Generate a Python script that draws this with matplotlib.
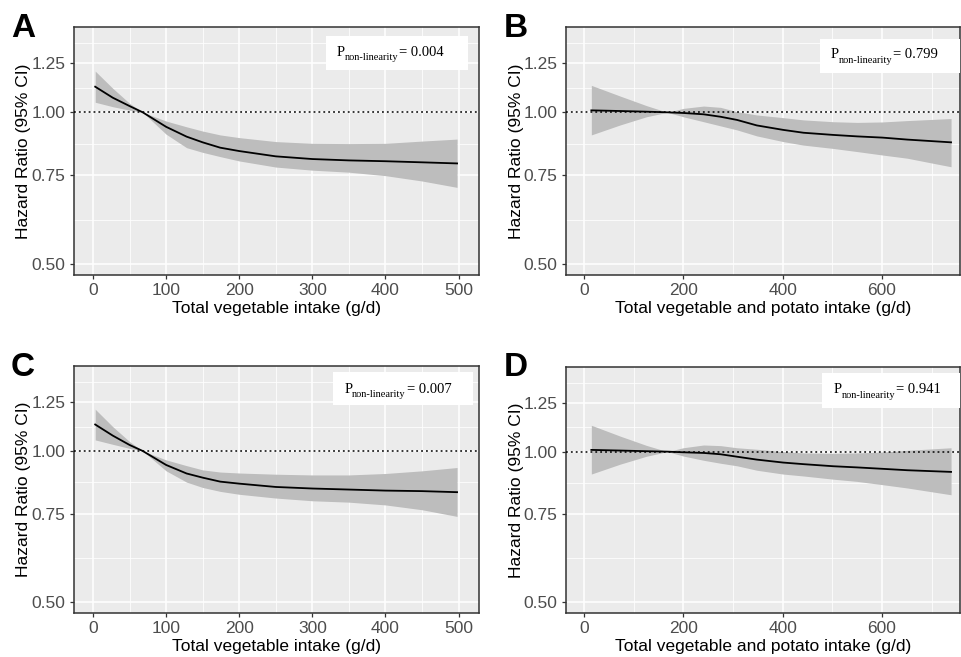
import matplotlib
matplotlib.use('Agg')
import matplotlib.pyplot as plt
from matplotlib.patches import Rectangle
from matplotlib.ticker import FixedLocator, FixedFormatter, NullFormatter

plt.rcParams['font.family'] = ['Liberation Sans', 'DejaVu Sans']

# x positions (g/d) where the curves were read
veg_x = [3, 27, 50, 68, 100, 128, 150, 174, 200, 250, 300, 350, 400, 450, 498]
potato_x = [15, 73, 126, 168, 200, 241, 275, 308, 348, 401, 442, 502, 550, 601, 651, 739]

# panel A
hr_a = [1.124, 1.069, 1.029, 1.0, 0.936, 0.895, 0.872, 0.851, 0.838, 0.818, 0.808, 0.803, 0.800, 0.796, 0.792]
hi_a = [1.207, 1.116, 1.042, 1.0, 0.961, 0.936, 0.918, 0.902, 0.891, 0.875, 0.868, 0.867, 0.868, 0.877, 0.885]
lo_a = [1.047, 1.026, 1.010, 1.0, 0.905, 0.851, 0.833, 0.817, 0.801, 0.779, 0.768, 0.761, 0.749, 0.731, 0.710]

# panel B
hr_b = [1.009, 1.006, 1.003, 1.0, 0.997, 0.991, 0.980, 0.966, 0.942, 0.923, 0.911, 0.902, 0.896, 0.891, 0.883, 0.872]
hi_b = [1.131, 1.077, 1.031, 1.0, 1.018, 1.029, 1.023, 1.003, 0.988, 0.976, 0.966, 0.958, 0.955, 0.957, 0.963, 0.972]
lo_b = [0.902, 0.944, 0.980, 1.0, 0.980, 0.958, 0.940, 0.923, 0.898, 0.875, 0.861, 0.848, 0.836, 0.823, 0.811, 0.780]

# panel C
hr_c = [1.129, 1.073, 1.028, 1.0, 0.938, 0.902, 0.885, 0.869, 0.861, 0.848, 0.842, 0.838, 0.834, 0.832, 0.828]
hi_c = [1.211, 1.118, 1.044, 1.0, 0.960, 0.935, 0.917, 0.908, 0.904, 0.899, 0.896, 0.896, 0.902, 0.913, 0.927]
lo_c = [1.052, 1.031, 1.012, 1.0, 0.913, 0.867, 0.846, 0.831, 0.820, 0.806, 0.796, 0.791, 0.781, 0.764, 0.741]

# panel D
hr_d = [1.008, 1.005, 1.002, 1.0, 0.997, 0.994, 0.988, 0.977, 0.964, 0.951, 0.944, 0.935, 0.930, 0.924, 0.918, 0.911]
hi_d = [1.129, 1.074, 1.029, 1.0, 1.018, 1.031, 1.028, 1.018, 1.011, 1.0, 0.994, 0.992, 0.994, 0.998, 1.006, 1.018]
lo_d = [0.902, 0.944, 0.979, 1.0, 0.980, 0.961, 0.948, 0.937, 0.918, 0.902, 0.894, 0.881, 0.872, 0.859, 0.846, 0.820]

y_ticks = [0.50, 0.75, 1.00, 1.25]
y_minor = [0.612, 0.866, 1.118, 1.369]
veg_ticks = [0, 100, 200, 300, 400, 500]
veg_minor = [50, 150, 250, 350, 450]
potato_ticks = [0, 200, 400, 600]
potato_minor = [100, 300, 500, 700]

p_values = ['0.004', '0.799', '0.007', '0.941']
letters = ['A', 'B', 'C', 'D']

W, H = 961, 657
fig = plt.figure(figsize=(W / 100, H / 100), dpi=100)


def px_axes(left, right, top, bottom):
    return fig.add_axes([left / W, 1 - bottom / H, (right - left) / W, (bottom - top) / H])


def draw_panel(ax, x, hr, lo, hi, xlim, ticks, minor, xlabel, pval, box, ppos):
    ax.set_facecolor('#EBEBEB')
    ax.set_yscale('log')
    ax.set_ylim(0.476, 1.476)
    ax.set_xlim(*xlim)
    ax.yaxis.set_major_locator(FixedLocator(y_ticks))
    ax.yaxis.set_major_formatter(FixedFormatter(['%.2f' % v for v in y_ticks]))
    ax.yaxis.set_minor_locator(FixedLocator(y_minor))
    ax.yaxis.set_minor_formatter(NullFormatter())
    ax.xaxis.set_major_locator(FixedLocator(ticks))
    ax.xaxis.set_minor_locator(FixedLocator(minor))
    ax.grid(which='major', color='white', linewidth=1.1)
    ax.grid(which='minor', color='white', linewidth=0.55)
    ax.set_axisbelow(True)
    ax.tick_params(which='major', length=3, width=0.9, color='#333333',
                   labelsize=12.5, labelcolor='#4D4D4D', pad=3)
    ax.tick_params(which='minor', length=0)
    for s in ax.spines.values():
        s.set_color('#333333')
        s.set_linewidth(1.1)

    ax.fill_between(x, lo, hi, color='#BDBDBD', linewidth=0, zorder=2)
    ax.plot(x, hr, color='black', linewidth=1.3, zorder=3)
    ax.axhline(1.0, color='black', linestyle=(0, (1.2, 2)), linewidth=1.1, zorder=4)

    ax.set_ylabel('Hazard Ratio (95% CI)', fontsize=12.5)
    ax.yaxis.set_label_coords(-0.107, 0.5)
    ax.set_xlabel(xlabel, fontsize=12.5)
    ax.xaxis.set_label_coords(0.5, -0.105)

    ax.add_patch(Rectangle((box[0], box[1]), box[2] - box[0], box[3] - box[1],
                           transform=ax.transAxes, facecolor='white',
                           edgecolor='none', zorder=5, clip_on=False))
    t1 = ax.text(ppos[0], ppos[1], 'P', transform=ax.transAxes, fontsize=10.5,
                 family='Liberation Serif', va='baseline', zorder=6)
    t2 = ax.annotate('non-linearity', xy=(1, 0), xycoords=t1, xytext=(0, -2.5),
                     textcoords='offset points', fontsize=7.5,
                     family='Liberation Serif', va='bottom', zorder=6)
    ax.annotate('= ' + pval, xy=(1, 0), xycoords=(t2, t1), xytext=(0.5, 0),
                textcoords='offset points', fontsize=10.5,
                family='Liberation Serif', va='bottom', zorder=6)


ax_a = px_axes(74, 479, 27, 275)
ax_b = px_axes(566, 960, 27, 275)
ax_c = px_axes(74, 479, 366, 613)
ax_d = px_axes(566, 960, 367, 613)

draw_panel(ax_a, veg_x, hr_a, lo_a, hi_a, (-26, 528), veg_ticks, veg_minor,
           'Total vegetable intake (g/d)', p_values[0],
           (0.622, 0.827, 0.973, 0.964), (0.649, 0.883))
draw_panel(ax_b, potato_x, hr_b, lo_b, hi_b, (-36, 757), potato_ticks, potato_minor,
           'Total vegetable and potato intake (g/d)', p_values[1],
           (0.645, 0.815, 1.0, 0.952), (0.672, 0.874))
draw_panel(ax_c, veg_x, hr_c, lo_c, hi_c, (-26, 528), veg_ticks, veg_minor,
           'Total vegetable intake (g/d)', p_values[2],
           (0.639, 0.842, 0.985, 0.976), (0.667, 0.892))
draw_panel(ax_d, potato_x, hr_d, lo_d, hi_d, (-36, 757), potato_ticks, potato_minor,
           'Total vegetable and potato intake (g/d)', p_values[3],
           (0.650, 0.833, 1.0, 0.976), (0.679, 0.893))

# panel letters
for letter, (lx, ly) in zip(letters, [(11, 37), (504, 37), (11, 376), (504, 376)]):
    fig.text(lx / W, 1 - ly / H, letter, fontsize=24, fontweight='bold', va='baseline')

fig.savefig('out.png', dpi=100)
